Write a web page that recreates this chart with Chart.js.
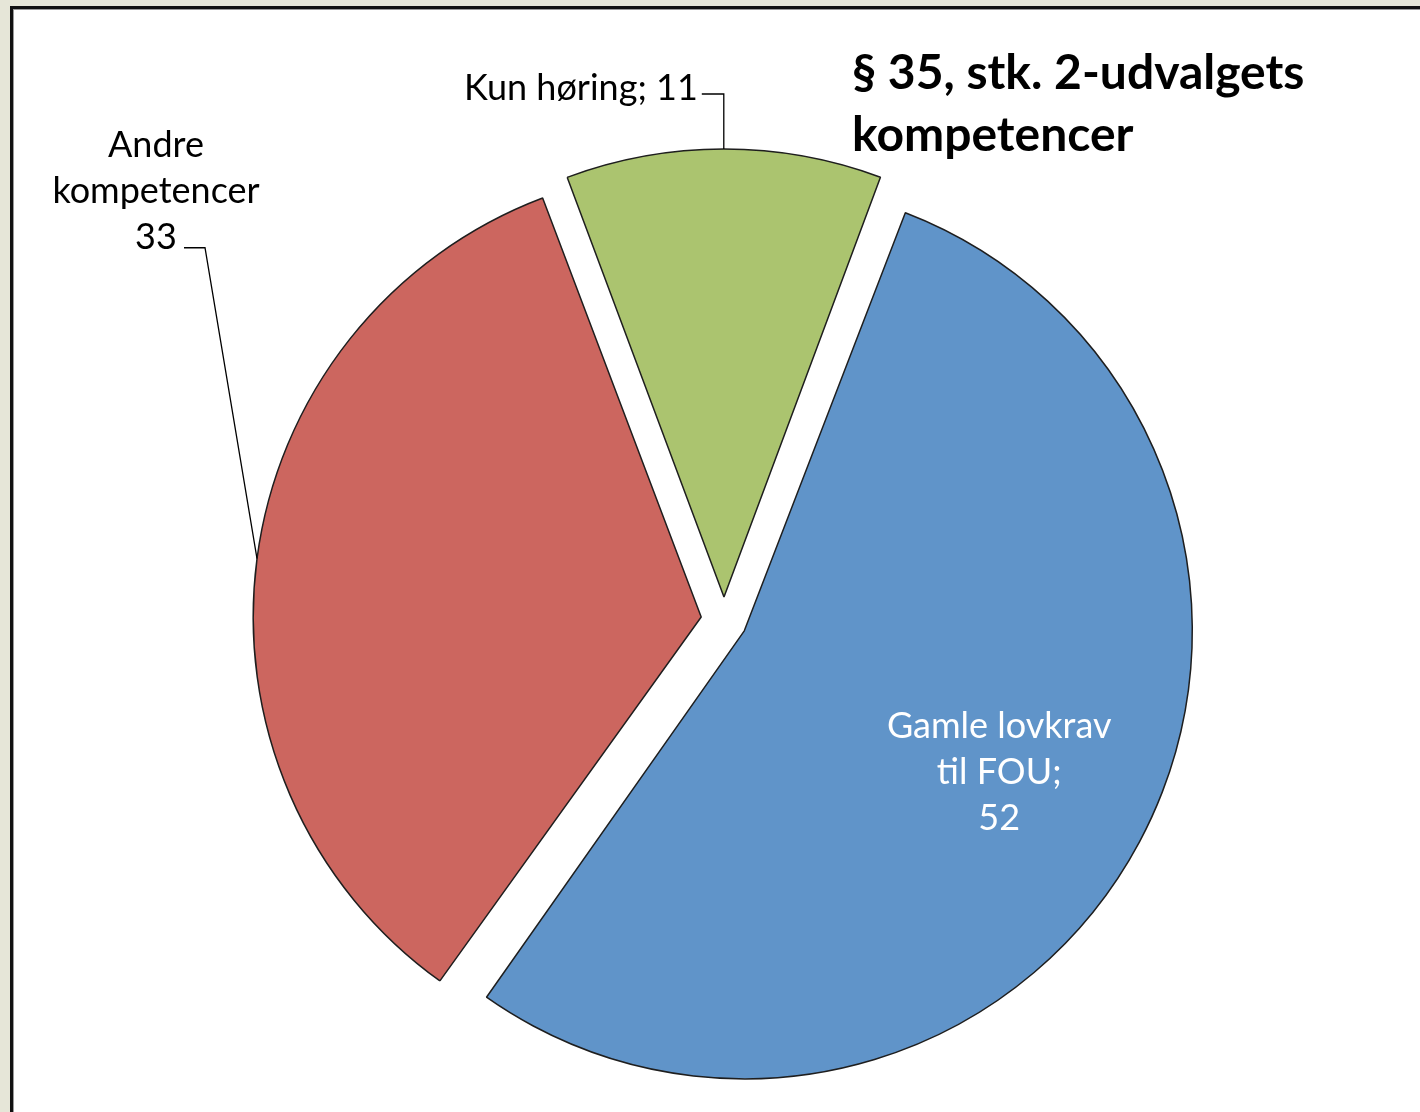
<!DOCTYPE html>
<html>
<head>
<meta charset="utf-8">
<script src="https://cdn.jsdelivr.net/npm/chart.js"></script>
<style>
  html, body { margin: 0; padding: 0; }
  body { width: 1420px; height: 1112px; background: #e6e6d8; position: relative; overflow: hidden; }
  #frame { position: absolute; left: 10px; top: 6px; right: 0; bottom: 0; background: #fff;
           border-left: 3px solid #111; border-top: 3px solid #111; box-shadow: inset 1px 1px 0 #9a9a9a; }
  #title { position: absolute; left: 852px; top: 40px; font: bold 48px Lato, sans-serif; line-height: 62px; color: #000; }
  canvas { position: absolute; left: 0; top: 0; }
</style>
</head>
<body>
<div id="frame"></div>
<canvas id="pie" width="1420" height="1112"></canvas>
<div id="title">§ 35, stk. 2-udvalgets<br>kompetencer</div>
<script>
const categories = ['Gamle lovkrav til FOU', 'Andre kompetencer', 'Kun høring'];
const values = [52, 33, 11];
const sliceColors = ['#6094c9', '#cc665f', '#abc46f'];
const labelLines = [
  ['Gamle lovkrav', 'til FOU;', '52'],
  ['Andre', 'kompetencer', '33'],
  ['Kun høring; 11']
];

const sliceRadius = 448;

// where each data label sits: inside the slice, or outside with a leader line
const labelLayout = [
  { inside: 0.645, dy: 5, color: '#fff', align: 'center' },
  { leader: [[-52, -311], [-21, 0]], dx: -28, dy: -10, color: '#000', align: 'center' },
  { leader: [[0, -55], [-22, 0]], dx: -4, dy: -6, color: '#000', align: 'right' }
];

const labelFont = '36px Lato, sans-serif';
const lineHeight = 46;

// chart.js grows exploded slices by offset*(1-sin(angle)); take it back so all share one radius
const evenRadius = {
  id: 'evenRadius',
  afterDatasetsUpdate(chart) {
    const shift = chart.data.datasets[0].offset / 4;
    chart.getDatasetMeta(0).data.forEach(arc => {
      const circ = arc.endAngle - arc.startAngle;
      const fix = 1 - Math.sin(Math.min(Math.PI, circ));
      arc.outerRadius = sliceRadius - shift * fix;
    });
  }
};

const sliceLabels = {
  id: 'sliceLabels',
  afterDatasetsDraw(chart) {
    const ctx = chart.ctx;
    const meta = chart.getDatasetMeta(0);
    const shift = chart.data.datasets[0].offset / 4;
    ctx.save();
    ctx.font = labelFont;
    ctx.textBaseline = 'middle';
    meta.data.forEach((arc, i) => {
      const p = arc.getProps(['x', 'y', 'startAngle', 'endAngle'], true);
      const mid = (p.startAngle + p.endAngle) / 2;
      const cx = p.x + Math.cos(mid) * shift;
      const cy = p.y + Math.sin(mid) * shift;
      const lay = labelLayout[i];
      const lines = labelLines[i];
      let tx, ty;
      if (lay.inside) {
        tx = cx + Math.cos(mid) * sliceRadius * lay.inside;
        ty = cy + Math.sin(mid) * sliceRadius * lay.inside + lay.dy - (lines.length - 1) * lineHeight / 2;
      } else {
        let x = cx + Math.cos(mid) * sliceRadius;
        let y = cy + Math.sin(mid) * sliceRadius;
        ctx.beginPath();
        ctx.moveTo(x, y);
        lay.leader.forEach(s => { x += s[0]; y += s[1]; ctx.lineTo(x, y); });
        ctx.strokeStyle = '#000';
        ctx.lineWidth = 1.3;
        ctx.stroke();
        tx = x + lay.dx;
        ty = y + lay.dy - (lines.length - 1) * lineHeight;
      }
      ctx.fillStyle = lay.color;
      ctx.textAlign = lay.align;
      lines.forEach((t, k) => ctx.fillText(t, tx, ty + k * lineHeight));
    });
    ctx.restore();
  }
};

new Chart(document.getElementById('pie'), {
  type: 'pie',
  data: {
    labels: categories,
    datasets: [{
      data: values,
      backgroundColor: sliceColors,
      borderColor: '#1e1e1e',
      borderWidth: 1.5,
      offset: 92,
      hoverOffset: 0
    }]
  },
  options: {
    responsive: false,
    animation: false,
    rotation: 20.6,
    radius: sliceRadius,
    layout: { padding: { left: 28, right: 0, top: 128, bottom: 0 } },
    plugins: {
      legend: { display: false },
      tooltip: { enabled: false }
    }
  },
  plugins: [evenRadius, sliceLabels]
});
</script>
</body>
</html>
